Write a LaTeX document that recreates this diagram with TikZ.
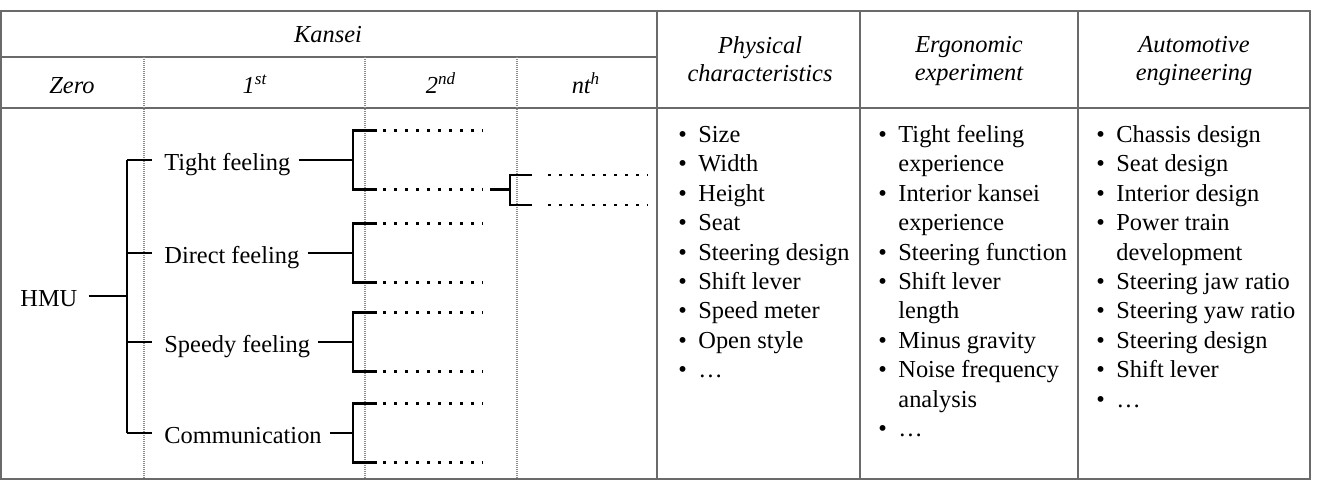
\documentclass[tikz,border=0pt]{standalone}
\usepackage{fontspec}
\setmainfont{Liberation Serif}
\usetikzlibrary{positioning}
\definecolor{rulegray}{HTML}{6A6A6A}
\definecolor{sepgray}{HTML}{8C8C8C}
\newcommand{\bul}{\makebox[10pt][l]{\textbullet}}
\newcommand{\bulgap}{\hspace*{10pt}}
\newcommand{\firstrow}{\rule{0pt}{10pt}}

\begin{document}
\begin{tikzpicture}[x=0.5pt, y=-0.5pt,
  font=\fontsize{12.2}{14.7}\selectfont,
  rule/.style={draw=rulegray, line width=1.2pt},
  sep/.style={draw=sepgray, line width=0.6pt, dash pattern=on 0.5pt off 0.5pt},
  br/.style={draw=black, line width=1.4pt},
  dots/.style={draw=black, line width=1.3pt, dash pattern=on 1.3pt off 4.2pt},
  hd/.style={font=\fontsize{12.2}{14}\selectfont\itshape, align=center, inner sep=0pt},
  lbl/.style={inner sep=0pt, text height=10pt, text depth=0pt, anchor=west},
  lst/.style={inner sep=0pt, anchor=north west, align=left}]

  \useasboundingbox (0,0) rectangle (1320,481);

  % table frame
  \draw[rule] (1.2,11) rectangle (1310,479);
  \draw[rule] (1.2,57) -- (657,57);
  \draw[rule] (1.2,108) -- (1310,108);
  \draw[rule] (657,11) -- (657,479);
  \draw[rule] (860,11) -- (860,479);
  \draw[rule] (1078,11) -- (1078,479);
  \foreach \x in {144,365,517}
    \draw[sep] (\x,57) -- (\x,479);

  % headers
  \node[hd, anchor=base] (kansei) at (328,43)  {Kansei};
  \node[hd, anchor=base] (zero)   at (72,93)   {Zero};
  \node[hd, anchor=base] (first)  at (255,93)  {1\textsuperscript{st}};
  \node[hd, anchor=base] (second) at (441,93)  {2\textsuperscript{nd}};
  \node[hd, anchor=base] (nth)    at (586,93)  {nt\textsuperscript{h}};
  \node[hd, anchor=north] (phys)  at (760,36)  {Physical\\characteristics};
  \node[hd, anchor=north] (ergo)  at (969,36)  {Ergonomic\\experiment};
  \node[hd, anchor=north] (auto)  at (1194,36) {Automotive\\engineering};

  % kansei tree
  \node[lbl] (hmu)    at (20,296)  {HMU};
  \node[lbl] (tight)  at (164,160) {Tight feeling};
  \node[lbl] (direct) at (164,253) {Direct feeling};
  \node[lbl] (speedy) at (164,342) {Speedy feeling};
  \node[lbl] (comm)   at (164,433) {Communication};

  \coordinate (trunk)  at (127,296);
  \coordinate (trunkt) at (127,160);
  \coordinate (trunkb) at (127,433);
  \draw[br, shorten <=5.5pt] (hmu.east) -- (trunk);
  \draw[br] (trunkt) -- (trunkb);

  \foreach \n/\y in {tight/160, direct/253, speedy/342, comm/433} {
    \coordinate (\n-t) at (127,\y);
    \coordinate (\n-b) at (353,\y);
    \coordinate (\n-u) at (377,\y-29.5);
    \coordinate (\n-l) at (377,\y+29.5);
    \draw[br, shorten >=6pt] (\n-t) -- (\n.west);
    \draw[br, shorten <=4pt] (\n.east) -- (\n-b);
    \draw[br] (\n-u) -| (\n-b) |- (\n-l);
    \draw[dots] ([xshift=3pt]\n-u) -- ++(100,0);
    \draw[dots] ([xshift=3pt]\n-l) -- ++(100,0);
  }

  % nth level
  \coordinate (stub)  at (490,189.5);
  \coordinate (nth-b) at (510,189.5);
  \coordinate (nth-u) at (532,175);
  \coordinate (nth-l) at (532,205);
  \draw[br] (stub) -- (nth-b);
  \draw[br] (nth-u) -| (nth-b) |- (nth-l);
  \draw[dots] ([xshift=8pt]nth-u) -- ++(100,0);
  \draw[dots] ([xshift=8pt]nth-l) -- ++(100,0);

  % item lists
  \node[lst] (physlist) at (678,122) {\firstrow\bul Size\\ \bul Width\\ \bul Height\\
    \bul Seat\\ \bul Steering design\\ \bul Shift lever\\ \bul Speed meter\\
    \bul Open style\\ \bul …};
  \node[lst] (ergolist) at (878,122) {\firstrow\bul Tight feeling\\ \bulgap experience\\
    \bul Interior kansei\\ \bulgap experience\\ \bul Steering function\\
    \bul Shift lever\\ \bulgap length\\ \bul Minus gravity\\
    \bul Noise frequency\\ \bulgap analysis\\ \bul …};
  \node[lst] (autolist) at (1096,122) {\firstrow\bul Chassis design\\ \bul Seat design\\
    \bul Interior design\\ \bul Power train\\ \bulgap development\\
    \bul Steering jaw ratio\\ \bul Steering yaw ratio\\ \bul Steering design\\
    \bul Shift lever\\ \bul …};

\end{tikzpicture}
\end{document}
